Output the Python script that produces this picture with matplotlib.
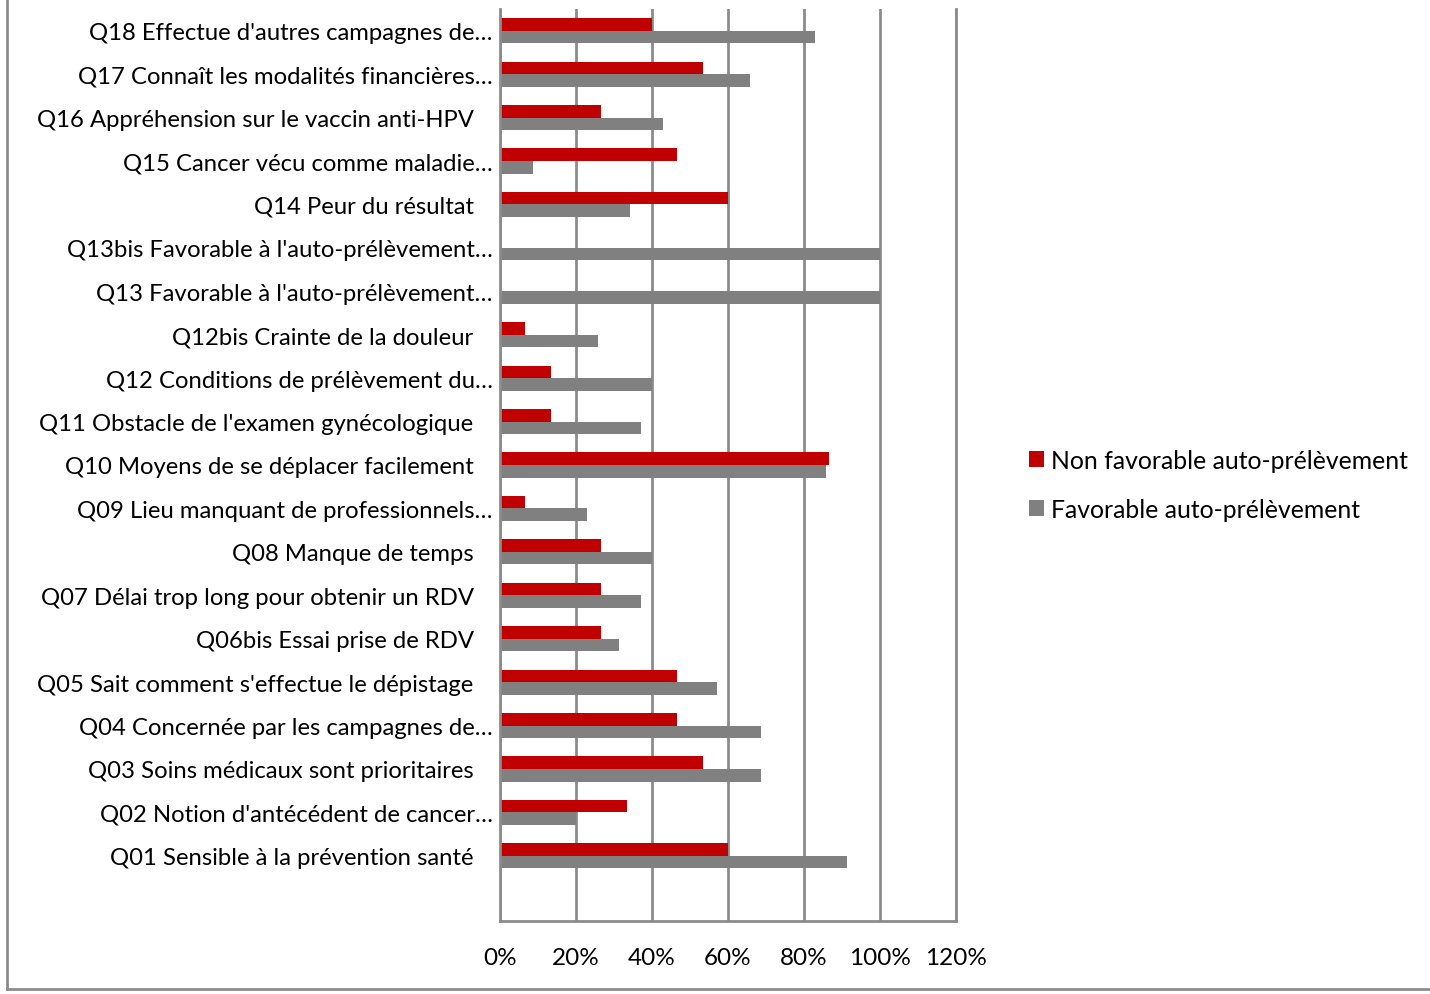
import matplotlib
matplotlib.use("Agg")
import matplotlib.pyplot as plt
from matplotlib.lines import Line2D
from matplotlib.ticker import PercentFormatter

plt.rcParams["font.family"] = ["Lato", "DejaVu Sans"]

# data (bottom to top, as drawn)
questions = [
    "Q01 Sensible à la prévention santé",
    "Q02 Notion d'antécédent de cancer…",
    "Q03 Soins médicaux sont prioritaires",
    "Q04 Concernée par les campagnes de…",
    "Q05 Sait comment s'effectue le dépistage",
    "Q06bis Essai prise de RDV",
    "Q07 Délai trop long pour obtenir un RDV",
    "Q08 Manque de temps",
    "Q09 Lieu manquant de professionnels…",
    "Q10 Moyens de se déplacer facilement",
    "Q11 Obstacle de l'examen gynécologique",
    "Q12 Conditions de prélèvement du…",
    "Q12bis Crainte de la douleur",
    "Q13 Favorable à l'auto-prélèvement…",
    "Q13bis Favorable à l'auto-prélèvement…",
    "Q14 Peur du résultat",
    "Q15 Cancer vécu comme maladie…",
    "Q16 Appréhension sur le vaccin anti-HPV",
    "Q17 Connaît les modalités financières…",
    "Q18 Effectue d'autres campagnes de…",
]
non_favorable = [60.0, 33.3, 53.3, 46.7, 46.7, 26.7, 26.7, 26.7, 6.7, 86.7,
                 13.3, 13.3, 6.7, 0, 0, 60.0, 46.7, 26.7, 53.3, 40.0]
favorable = [91.4, 20.0, 68.6, 68.6, 57.1, 31.4, 37.1, 40.0, 22.9, 85.7,
             37.1, 40.0, 25.7, 100.0, 100.0, 34.3, 8.6, 42.9, 65.7, 82.9]

red = "#C00000"
grey = "#808080"
axis_grey = "#8C8C8C"
fs = 17.5

fig = plt.figure(figsize=(14.3, 9.95), dpi=100)
ax = fig.add_axes([500 / 1430, 73 / 995, 456 / 1430, 912 / 995])

pos = list(range(len(questions)))
h = 0.29
ax.barh([p + h / 2 for p in pos], non_favorable, height=h, color=red,
        label="Non favorable auto-prélèvement")
ax.barh([p - h / 2 for p in pos], favorable, height=h, color=grey,
        label="Favorable auto-prélèvement")

ax.set_xlim(0, 120)
ax.set_ylim(-1.5, len(questions) - 0.5)
ax.set_xticks(range(0, 121, 20))
ax.xaxis.set_major_formatter(PercentFormatter(decimals=0))
ax.set_yticks(pos)
ax.set_yticklabels(questions, fontsize=17.2)

ax.grid(axis="x", color=axis_grey, linewidth=2)
ax.set_axisbelow(True)
ax.spines["top"].set_visible(False)
for s in ["left", "bottom", "right"]:
    ax.spines[s].set_color(axis_grey)
    ax.spines[s].set_linewidth(2)
ax.tick_params(axis="both", length=0)
ax.tick_params(axis="x", labelsize=fs, pad=19)

# labels without an ellipsis sit a little further left
for tick, lab in zip(ax.yaxis.get_major_ticks(), questions):
    tick.set_pad(5.3 if lab.endswith("…") else 19)

fig.legend(loc="center left", bbox_to_anchor=(1029 / 1430, 1 - 486 / 995),
           frameon=False, fontsize=17.8, handlelength=0.6, handleheight=0.6,
           handletextpad=0.3, labelspacing=1.05, borderpad=0, borderaxespad=0)

# chart border
fig.add_artist(Line2D([7 / 1430, 7 / 1430], [5 / 995, 1.0], color=axis_grey,
                      linewidth=2, transform=fig.transFigure))
fig.add_artist(Line2D([7 / 1430, 1.0], [5 / 995, 5 / 995], color=axis_grey,
                      linewidth=2, transform=fig.transFigure))

fig.savefig("out.png", dpi=100, facecolor="white")
